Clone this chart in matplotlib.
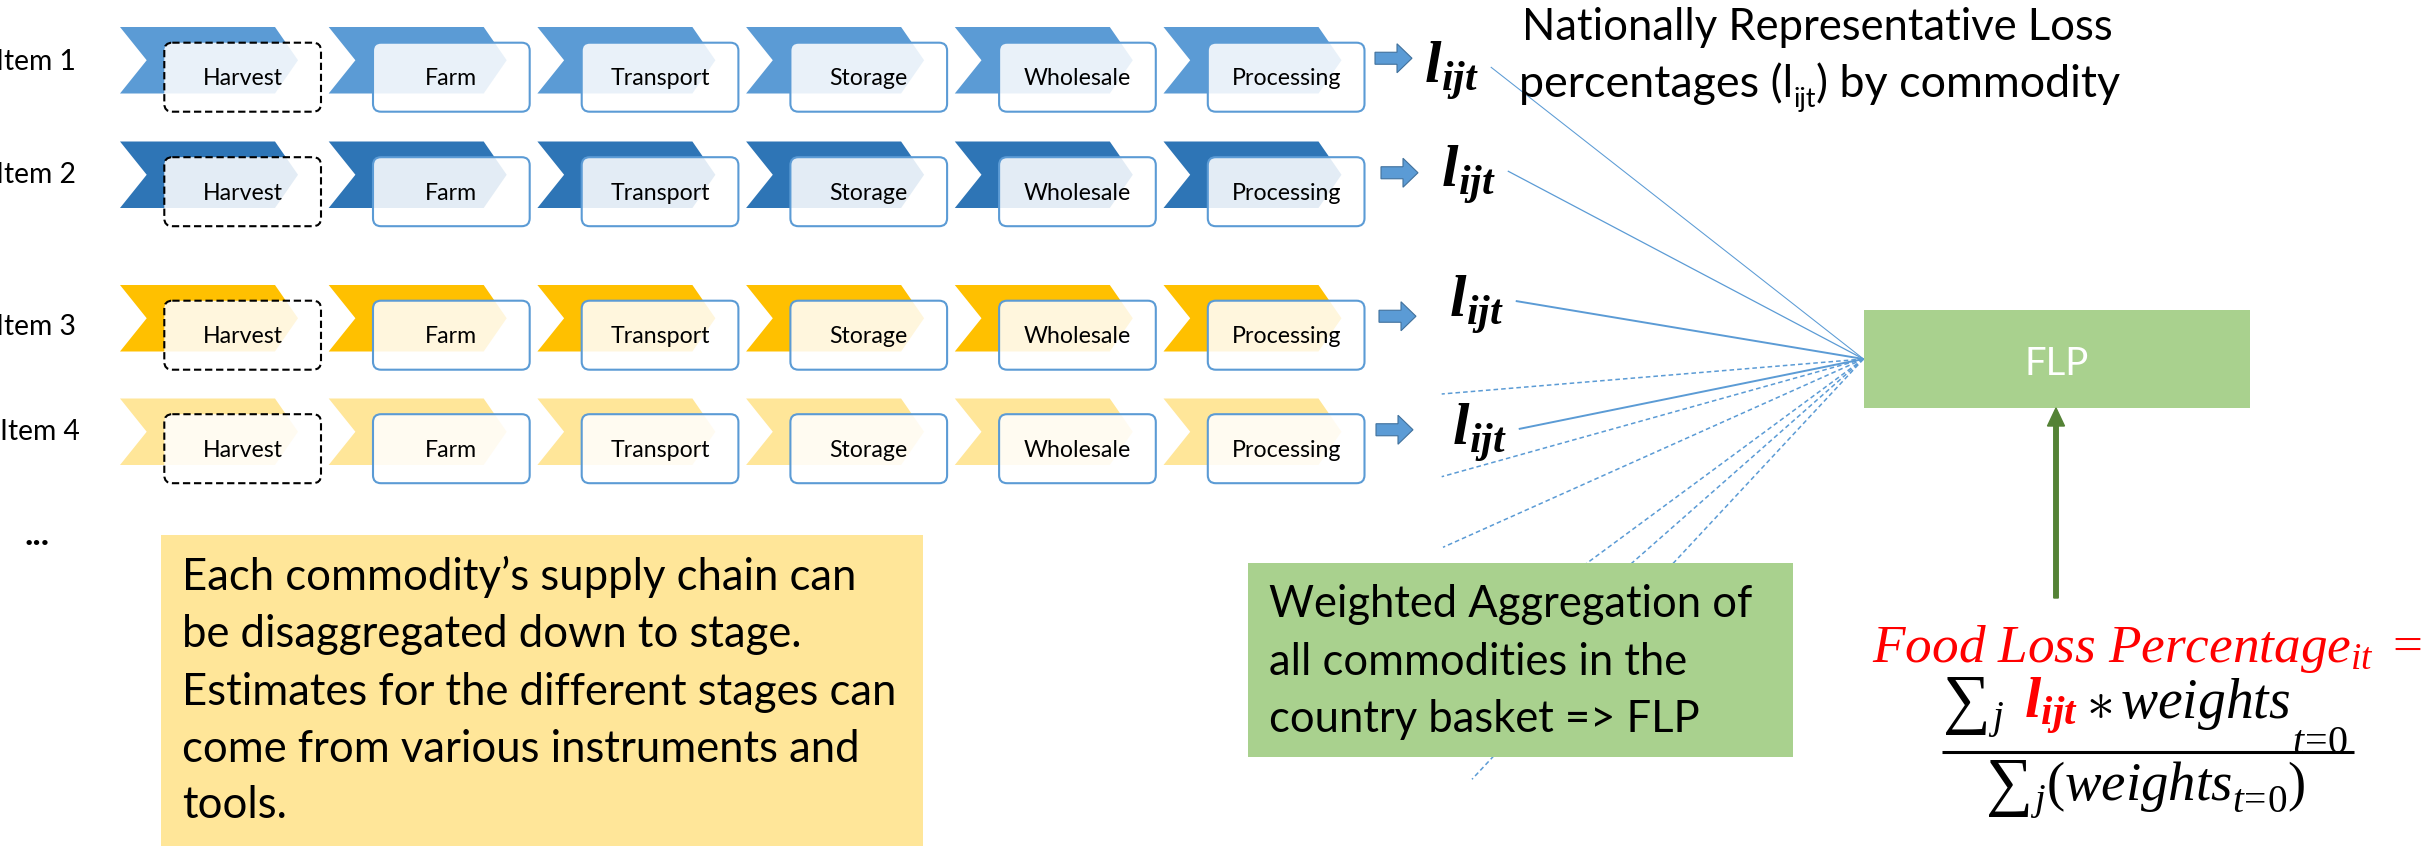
import matplotlib
matplotlib.use('Agg')
import matplotlib.pyplot as plt
from matplotlib.patches import Polygon, FancyBboxPatch, Rectangle, FancyArrow

plt.rcParams['font.family'] = ['Lato', 'DejaVu Sans']
plt.rcParams['mathtext.fontset'] = 'custom'
plt.rcParams['mathtext.rm'] = 'Liberation Serif'
plt.rcParams['mathtext.it'] = 'Liberation Serif:italic'
plt.rcParams['mathtext.bf'] = 'Liberation Serif:bold:italic'

# ---------------- content ----------------
items = ['Item 1', 'Item 2', 'Item 3', 'Item 4']
stages = ['Harvest', 'Farm', 'Transport', 'Storage', 'Wholesale', 'Processing']
item_colors = ['#5B9BD5', '#2E75B6', '#FFC000', '#FFE699']
dashed_stage = 'Harvest'
loss_symbol = r'$\mathbf{l}_{\mathbf{ijt}}$'
title_line1 = 'Nationally Representative Loss'
title_line2 = ['percentages (l', 'ijt', ') by commodity']
note_lines = ["Each commodity\u2019s supply chain can",
              "be disaggregated down to stage.",
              "Estimates for the different stages can",
              "come from various instruments and",
              "tools."]
agg_lines = ['Weighted Aggregation of',
             'all commodities in the',
             'country basket => FLP']
flp_label = 'FLP'
formula_lhs = r'$\mathit{Food\ Loss\ Percentage}_{it}\ =$'
ellipsis = '...'

# ---------------- layout (pixels) ----------------
W, H = 2433, 847
fig = plt.figure(figsize=(W / 100, H / 100), dpi=100)
ax = fig.add_axes([0, 0, 1, 1])
ax.set_xlim(0, W)
ax.set_ylim(H, 0)
ax.axis('off')
R = fig.canvas.get_renderer()

PX = 100 / 72.0


def twidth(s, size, **kw):
    t = ax.text(0, 0, s, fontsize=size, **kw)
    w = t.get_window_extent(R).width
    t.remove()
    return w


def fit(s, target, **kw):
    return 20 * target / twidth(s, 20, **kw)


def seq_width(parts, F):
    tot = 0
    for s, rel, gap, dy, col in parts:
        tot += gap * F * PX + twidth(s, F * rel)
    return tot


def draw_seq(x, y, parts, F, z=6):
    cx = x
    for s, rel, gap, dy, col in parts:
        cx += gap * F * PX
        t = ax.text(cx, y + dy * F * PX, s, fontsize=F * rel, color=col,
                    ha='left', va='baseline', zorder=z)
        cx += t.get_window_extent(R).width
    return cx


row_top = [27, 141.5, 285, 398.5]
chev_h = 66.5
chev_x0, chev_dx = 120, 208.7
notch, top_w, tip = 26.7, 155, 178
box_dx, box_w, box_dy, box_h = 44.3, 156.7, 15.7, 69
item_right = [76, 76, 76, 79.5]
item_base = [70, 183, 335, 440]

item_fs = fit('Item 4', 80)
stage_fs = fit('Harvest', 80)

for r, (name, col) in enumerate(zip(items, item_colors)):
    top = row_top[r]
    ax.text(item_right[r], item_base[r], name, ha='right', va='baseline',
            fontsize=item_fs, color='black')
    for k, st in enumerate(stages):
        x0 = chev_x0 + k * chev_dx
        pts = [(x0, top), (x0 + top_w, top), (x0 + tip, top + chev_h / 2),
               (x0 + top_w, top + chev_h), (x0, top + chev_h), (x0 + notch, top + chev_h / 2)]
        ax.add_patch(Polygon(pts, closed=True, facecolor=col, edgecolor='none', zorder=1))
        bx, by = x0 + box_dx, top + box_dy
        dashed = (st == dashed_stage)
        ax.add_patch(FancyBboxPatch((bx, by), box_w, box_h,
                                    boxstyle='round,pad=0,rounding_size=8',
                                    facecolor=(1, 1, 1, 0.87),
                                    edgecolor='black' if dashed else '#5B9BD5',
                                    linewidth=1.5,
                                    linestyle=(0, (3.5, 1.8)) if dashed else 'solid',
                                    zorder=2))
        ax.text(bx + box_w / 2, by + 42.5, st, ha='center', va='baseline',
                fontsize=stage_fs, color='black', zorder=3)

# block arrows
arrow_x = [1375, 1381, 1379, 1376]
arrow_len = 37
for r in range(4):
    x0 = arrow_x[r]
    x1 = x0 + arrow_len
    ym = row_top[r] + chev_h / 2 - 2
    pts = [(x0, ym - 6), (x1 - 15, ym - 6), (x1 - 15, ym - 14.5), (x1, ym),
           (x1 - 15, ym + 14.5), (x1 - 15, ym + 6), (x0, ym + 6)]
    ax.add_patch(Polygon(pts, closed=True, facecolor='#5B9BD5', edgecolor='#41719C',
                         linewidth=0.8, zorder=3))

# l_ijt labels and solid lines to FLP
conv = (1863.5, 359)
l_x = [1424, 1441, 1449, 1452]
l_base = [83, 187, 317, 445]
l_fs = fit(loss_symbol, 57)
line_lw = [0.75, 0.9, 1.4, 1.4]
for r in range(4):
    t = ax.text(l_x[r], l_base[r], loss_symbol, fontsize=l_fs, color='black',
                ha='left', va='baseline', zorder=4)
    ext = t.get_window_extent(R)
    sx = l_x[r] + ext.width + 12
    sy = l_base[r] - 16
    ax.plot([sx, conv[0]], [sy, conv[1]], color='#5B9BD5', lw=line_lw[r],
            solid_capstyle='butt', zorder=2)

# dashed fan lines (other commodities); some run behind the aggregation box
dash_ends = [(1441.7, 394), (1441.7, 476.7), (1443, 547.3),
             (1537, 600), (1590, 600), (1472, 779.3)]
for ex, ey in dash_ends:
    ax.plot([conv[0], ex], [conv[1], ey], color='#5B9BD5', lw=1.1,
            linestyle=(0, (3, 2)), zorder=2)

# title
t1_fs = fit(title_line1, 593)
ax.text(1522, 40, title_line1, fontsize=t1_fs, ha='left', va='baseline', color='black')
t2_parts = [(title_line2[0], 1.0, 0, 0, 'black'),
            (title_line2[1], 0.6, 0, 0.22, 'black'),
            (title_line2[2], 1.0, 0, 0, 'black')]
F2 = 20 * 602 / seq_width(t2_parts, 20)
draw_seq(1519, 97, t2_parts, F2)

# FLP box
ax.add_patch(Rectangle((1864, 310), 386, 98, facecolor='#A9D18E', edgecolor='none', zorder=3))
ax.text(2057, 375, flp_label, fontsize=fit(flp_label, 64), color='white',
        ha='center', va='baseline', zorder=4)
ax.add_patch(FancyArrow(2056, 598, 0, 408 - 598, width=4.5, head_width=17, head_length=18,
                        length_includes_head=True, color='#548235', zorder=4))

# yellow note box
ax.add_patch(Rectangle((160.7, 535), 762.3, 311, facecolor='#FFE699', edgecolor='none', zorder=3))
note_fs = fit(note_lines[2], 717)
note_base = [590, 647, 705, 762, 818]
for s, b in zip(note_lines, note_base):
    ax.text(182, b, s, fontsize=note_fs, ha='left', va='baseline', color='black', zorder=4)

ax.text(24, 545, ellipsis, fontsize=fit(ellipsis, 26, fontweight='bold'),
        fontweight='bold', ha='left', va='baseline', color='black')

# green aggregation box
ax.add_patch(Rectangle((1248, 562.7), 545, 194, facecolor='#A9D18E', edgecolor='none', zorder=3))
agg_fs = fit(agg_lines[0], 484)
agg_base = [617, 675, 732]
for s, b in zip(agg_lines, agg_base):
    ax.text(1269, b, s, fontsize=agg_fs, ha='left', va='baseline', color='black', zorder=4)

# formula
lhs_fs = fit(formula_lhs, 551)
ax.text(2422, 662, formula_lhs, fontsize=lhs_fs, color='#FF0000', ha='right', va='baseline', zorder=5)

num_parts = [(r'$\sum$', 1.2, 0, 0.05, 'black'),
             (r'$j$', 0.7, 0.02, 0.18, 'black'),
             (loss_symbol, 1.05, 0.35, 0, '#FF0000'),
             (r'$\ast$', 1.0, 0.15, 0, 'black'),
             (r'$\mathit{weights}$', 1.0, 0.15, 0, 'black'),
             (r'$t\!=\!0$', 0.72, 0.02, 0.62, 'black')]
Fn = 30 * 410 / seq_width(num_parts, 30)
draw_seq(1942, 718, num_parts, Fn)
ax.plot([1942, 2353.5], [751.7, 751.7], color='black', lw=2.2, solid_capstyle='butt', zorder=5)

den_parts = [(r'$\sum$', 1.2, 0, 0.05, 'black'),
             (r'$j$', 0.7, 0.02, 0.18, 'black'),
             (r'$(\mathit{weights}$', 1.0, 0.0, 0, 'black'),
             (r'$t\!=\!0$', 0.72, 0.0, 0.22, 'black'),
             (r'$)$', 1.0, 0.0, 0, 'black')]
Fd = 30 * 323 / seq_width(den_parts, 30)
draw_seq(1985, 800, den_parts, Fd)

fig.savefig('out.png', dpi=100)
